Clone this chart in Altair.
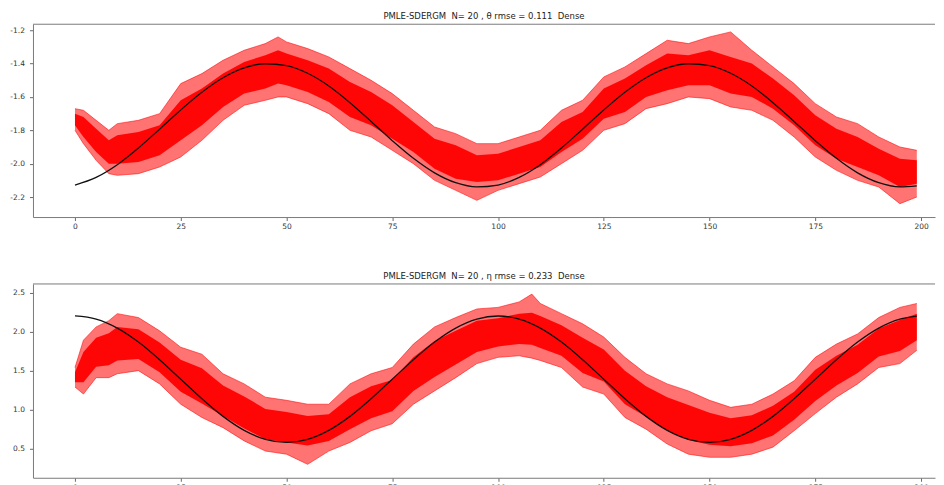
import altair as alt
import pandas as pd

# ---- data ----
T_BLACK = [0, 5, 10, 15, 20, 25, 30, 35, 40, 45, 50, 55, 60, 65, 70, 75, 80, 85, 90, 95,
           100, 105, 110, 115, 120, 125, 130, 135, 140, 145, 150, 155, 160, 165, 170, 175,
           180, 185, 190, 195, 199]
THETA_TRUE = [-2.128, -2.082, -2.006, -1.906, -1.793, -1.678, -1.572, -1.485, -1.426, -1.401,
              -1.412, -1.458, -1.534, -1.634, -1.747, -1.862, -1.968, -2.055, -2.114, -2.139,
              -2.128, -2.082, -2.006, -1.906, -1.793, -1.678, -1.572, -1.485, -1.426, -1.401,
              -1.412, -1.458, -1.534, -1.634, -1.747, -1.862, -1.968, -2.055, -2.114, -2.139,
              -2.133]
ETA_TRUE = [2.200, 2.160, 2.045, 1.866, 1.640, 1.390, 1.140, 0.914, 0.735, 0.620,
            0.580, 0.620, 0.735, 0.914, 1.140, 1.390, 1.640, 1.866, 2.045, 2.160,
            2.200, 2.160, 2.045, 1.866, 1.640, 1.390, 1.140, 0.914, 0.735, 0.620,
            0.580, 0.620, 0.735, 0.914, 1.140, 1.390, 1.640, 1.866, 2.045, 2.160,
            2.198]

# estimates: spread of the red estimate paths (outer envelope and dense core)
T_TOP = [0, 2, 5, 8, 10, 15, 20, 25, 30, 35, 40, 45, 48, 50, 55, 60, 65, 70, 75, 80, 85, 90,
         95, 100, 105, 110, 115, 120, 125, 130, 135, 140, 145, 150, 155, 160, 165, 170, 175,
         180, 185, 190, 195, 199]
TOP_LO = [-1.80, -1.88, -1.98, -2.06, -2.07, -2.06, -2.02, -1.96, -1.86, -1.74, -1.65, -1.62,
          -1.60, -1.60, -1.64, -1.70, -1.80, -1.84, -1.92, -2.00, -2.10, -2.16, -2.22, -2.16,
          -2.12, -2.08, -2.00, -1.92, -1.80, -1.76, -1.67, -1.64, -1.60, -1.61, -1.66, -1.68,
          -1.74, -1.84, -1.96, -2.04, -2.10, -2.14, -2.24, -2.20]
TOP_HI = [-1.67, -1.68, -1.74, -1.80, -1.76, -1.74, -1.70, -1.52, -1.46, -1.38, -1.32, -1.28,
          -1.24, -1.27, -1.31, -1.36, -1.43, -1.50, -1.58, -1.68, -1.78, -1.82, -1.88, -1.88,
          -1.84, -1.80, -1.68, -1.62, -1.48, -1.42, -1.34, -1.26, -1.28, -1.24, -1.21, -1.32,
          -1.42, -1.52, -1.64, -1.72, -1.76, -1.84, -1.90, -1.92]
TOP_CORE_LO = [-1.77, -1.84, -1.93, -2.00, -2.00, -1.99, -1.95, -1.86, -1.77, -1.66, -1.58,
               -1.55, -1.52, -1.53, -1.57, -1.63, -1.72, -1.77, -1.85, -1.93, -2.03, -2.09,
               -2.11, -2.10, -2.06, -2.02, -1.93, -1.85, -1.73, -1.69, -1.60, -1.56, -1.53,
               -1.53, -1.58, -1.60, -1.67, -1.77, -1.89, -1.97, -2.02, -2.07, -2.14, -2.12]
TOP_CORE_HI = [-1.70, -1.72, -1.79, -1.86, -1.83, -1.81, -1.77, -1.62, -1.55, -1.46, -1.39,
               -1.35, -1.32, -1.34, -1.38, -1.43, -1.51, -1.57, -1.65, -1.75, -1.85, -1.89,
               -1.95, -1.94, -1.90, -1.86, -1.75, -1.69, -1.55, -1.49, -1.41, -1.34, -1.35,
               -1.32, -1.36, -1.40, -1.49, -1.59, -1.71, -1.79, -1.84, -1.91, -1.97, -1.98]

T_BOT = [0, 2, 5, 8, 10, 15, 20, 25, 30, 35, 40, 45, 50, 55, 60, 65, 70, 75, 80, 85, 90, 95,
         100, 105, 108, 110, 115, 120, 125, 130, 135, 140, 145, 150, 155, 160, 165, 170, 175,
         180, 185, 190, 195, 199]
BOT_LO = [1.29, 1.20, 1.41, 1.41, 1.46, 1.50, 1.33, 1.07, 0.90, 0.77, 0.60, 0.47, 0.43, 0.30,
          0.47, 0.58, 0.73, 0.82, 1.07, 1.24, 1.41, 1.59, 1.67, 1.69, 1.66, 1.63, 1.54, 1.29,
          1.20, 0.90, 0.75, 0.56, 0.43, 0.39, 0.39, 0.43, 0.52, 0.73, 0.95, 1.16, 1.33, 1.54,
          1.59, 1.76]
BOT_HI = [1.54, 1.89, 2.06, 2.14, 2.23, 2.18, 2.01, 1.80, 1.71, 1.46, 1.33, 1.16, 1.12, 1.07,
          1.07, 1.33, 1.46, 1.54, 1.84, 2.06, 2.18, 2.29, 2.31, 2.38, 2.48, 2.36, 2.23, 2.10,
          1.93, 1.67, 1.46, 1.33, 1.24, 1.12, 1.03, 1.07, 1.20, 1.37, 1.67, 1.84, 1.97, 2.18,
          2.31, 2.36]
BOT_CORE_LO = [1.35, 1.35, 1.55, 1.57, 1.63, 1.65, 1.48, 1.23, 1.08, 0.92, 0.76, 0.62, 0.58,
               0.54, 0.60, 0.75, 0.89, 0.98, 1.24, 1.42, 1.58, 1.74, 1.81, 1.84, 1.83, 1.79,
               1.69, 1.47, 1.36, 1.07, 0.91, 0.73, 0.61, 0.55, 0.53, 0.57, 0.67, 0.87, 1.11,
               1.31, 1.47, 1.68, 1.75, 1.89]
BOT_CORE_HI = [1.48, 1.74, 1.92, 1.98, 2.06, 2.03, 1.86, 1.64, 1.53, 1.31, 1.17, 1.01, 0.97,
               0.92, 0.94, 1.16, 1.30, 1.38, 1.67, 1.88, 2.01, 2.14, 2.17, 2.23, 2.24, 2.20,
               2.08, 1.92, 1.77, 1.50, 1.30, 1.16, 1.06, 0.96, 0.89, 0.93, 1.05, 1.23, 1.51,
               1.69, 1.83, 2.04, 2.15, 2.23]

X_TICKS = [0, 25, 50, 75, 100, 125, 150, 175, 200]
TOP_TICKS = [-2.2, -2.0, -1.8, -1.6, -1.4, -1.2]
BOT_TICKS = [0.5, 1.0, 1.5, 2.0, 2.5]

TITLE_TOP = "PMLE-SDERGM\u00a0 N= 20 , \u03b8 rmse = 0.111\u00a0 Dense"
TITLE_BOT = "PMLE-SDERGM\u00a0 N= 20 , \u03b7 rmse = 0.233\u00a0 Dense"

FONT = "DejaVu Sans"
SPINE = "#7a7a7a"
LABEL_EXPR = "datum.value < 0 ? '-' + format(-datum.value, '.1f') : format(datum.value, '.1f')"
PLOT_W = 903


def panel(title, t_env, lo, hi, clo, chi, black, ydom, yticks, h):
    env = pd.DataFrame({"t": t_env, "lo": lo, "hi": hi, "clo": clo, "chi": chi})
    blk = pd.DataFrame({"t": T_BLACK, "v": black})
    xaxis = alt.Axis(values=X_TICKS, format="d", minExtent=14, maxExtent=14, labelPadding=2)
    yaxis = alt.Axis(values=yticks, labelExpr=LABEL_EXPR, minExtent=25, maxExtent=25,
                     labelPadding=5)
    xs = alt.Scale(domain=[-9.93, 203.3], nice=False, zero=False)
    ys = alt.Scale(domain=ydom, nice=False, zero=False)
    X = alt.X("t:Q", scale=xs, axis=xaxis, title=None)

    outer = alt.Chart(env).mark_area(color="#ff0000", opacity=0.55).encode(
        x=X, y=alt.Y("lo:Q", scale=ys, axis=yaxis, title=None), y2="hi:Q")
    core = alt.Chart(env).mark_area(color="#ff0000", opacity=0.95).encode(
        x=X, y=alt.Y("clo:Q", scale=ys, axis=yaxis, title=None), y2="chi:Q")
    edge_lo = alt.Chart(env).mark_line(color="#ff0000", opacity=0.55, strokeWidth=1).encode(
        x=X, y=alt.Y("lo:Q", scale=ys, axis=yaxis, title=None))
    edge_hi = alt.Chart(env).mark_line(color="#ff0000", opacity=0.55, strokeWidth=1).encode(
        x=X, y=alt.Y("hi:Q", scale=ys, axis=yaxis, title=None))
    truth = alt.Chart(blk).mark_line(color="#111111", strokeWidth=1.3,
                                     interpolate="monotone").encode(
        x=X, y=alt.Y("v:Q", scale=ys, axis=yaxis, title=None))
    top_spine = alt.Chart(pd.DataFrame({"k": [0]})).mark_rule(
        color=SPINE, strokeWidth=1).encode(
        x=alt.value(0), x2=alt.value(PLOT_W), y=alt.value(0))
    return alt.layer(outer, core, edge_lo, edge_hi, truth, top_spine).properties(
        width=PLOT_W, height=h,
        title=alt.TitleParams(text=title, fontSize=8.5, font=FONT, fontWeight="normal",
                              color="#222222", offset=3, anchor="middle"))


top = panel(TITLE_TOP, T_TOP, TOP_LO, TOP_HI, TOP_CORE_LO, TOP_CORE_HI, THETA_TRUE,
            [-2.32, -1.164], TOP_TICKS, 193)
bot = panel(TITLE_BOT, T_BOT, BOT_LO, BOT_HI, BOT_CORE_LO, BOT_CORE_HI, ETA_TRUE,
            [0.128, 2.61], BOT_TICKS, 194)

chart = alt.vconcat(top, bot, spacing=41).properties(
    padding={"left": 0, "top": 4, "right": 0, "bottom": 0}
).configure_view(strokeWidth=0).configure_axis(
    grid=False, domain=True, domainColor=SPINE, domainWidth=1,
    tickColor="#444444", tickSize=3.5, tickWidth=0.8,
    labelFont=FONT, labelFontSize=7.5, labelColor="#333333"
)

chart.save("out.html", embed_options={"renderer": "svg", "actions": False})
